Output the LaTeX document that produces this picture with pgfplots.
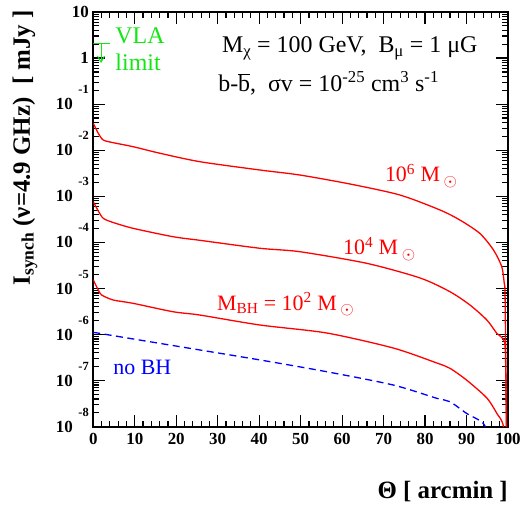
\documentclass[border=0pt]{standalone}
\usepackage{fontspec}
\setmainfont{Liberation Serif}
\usepackage{pgfplots}
\pgfplotsset{compat=1.18}
\usetikzlibrary{arrows.meta}
\definecolor{vlagreen}{RGB}{20,230,20}
\definecolor{pred}{RGB}{255,0,0}
\definecolor{pblue}{RGB}{0,0,255}
\definecolor{tkblack}{RGB}{0,0,0}
\newcommand\ylab[1]{10\hspace{5.5bp}\smash{\raisebox{16bp}{\fontsize{12.5}{12.5}\selectfont\bfseries #1}}}
\newcommand\sun{\,\raisebox{-4.5bp}{\fontsize{17}{17}\selectfont$\odot$}}
\begin{document}
\begin{tikzpicture}
\useasboundingbox (-93.3bp,-78.3bp) rectangle (428.7bp,426.7bp);
\begin{axis}[name=ax, at={(0,0)}, anchor=south west,
  scale only axis, width=414.7bp, height=414.7bp,
  xmin=0, xmax=100, ymode=log, ymin=1e-8, ymax=10,
  axis line style={line width=1.6bp},
  tick style={solid, draw=tkblack, line width=1.2bp},
  tickwidth=12bp, subtickwidth=6bp,
  xtick={0,10,20,30,40,50,60,70,80,90,100}, minor x tick num=4,
  xticklabels={0,10,20,30,40,50,60,70,80,90,100},
  ytick={1e-8,1e-7,1e-6,1e-5,1e-4,1e-3,1e-2,1e-1,1,10},
  yticklabels={\ylab{-8},\ylab{-7},\ylab{-6},\ylab{-5},\ylab{-4},\ylab{-3},\ylab{-2},\ylab{-1},1\hspace{16bp},10\hspace{17bp}},
  minor ytick={2e-8,3e-8,4e-8,5e-8,6e-8,7e-8,8e-8,9e-8,
    2e-7,3e-7,4e-7,5e-7,6e-7,7e-7,8e-7,9e-7,
    2e-6,3e-6,4e-6,5e-6,6e-6,7e-6,8e-6,9e-6,
    2e-5,3e-5,4e-5,5e-5,6e-5,7e-5,8e-5,9e-5,
    2e-4,3e-4,4e-4,5e-4,6e-4,7e-4,8e-4,9e-4,
    2e-3,3e-3,4e-3,5e-3,6e-3,7e-3,8e-3,9e-3,
    2e-2,3e-2,4e-2,5e-2,6e-2,7e-2,8e-2,9e-2,
    0.2,0.3,0.4,0.5,0.6,0.7,0.8,0.9,
    2,3,4,5,6,7,8,9},
  every tick label/.append style={font=\fontsize{17}{17}\selectfont\bfseries},
  xticklabel style={inner sep=0pt, anchor=north, yshift=-6.8bp},
  yticklabel style={inner sep=0pt, anchor=east, xshift=-4.3bp},
]
% tick marks drawn as short segments (major 12 px, minor 6 px)
\addplot[tkblack, solid, line width=1.2bp, mark=none, forget plot, unbounded coords=jump] coordinates {
(0,1e-8)(0,1.822e-8)(nan,nan)(10,1e-8)(10,1.822e-8)(nan,nan)(20,1e-8)(20,1.822e-8)(nan,nan)
(30,1e-8)(30,1.822e-8)(nan,nan)(40,1e-8)(40,1.822e-8)(nan,nan)(50,1e-8)(50,1.822e-8)(nan,nan)
(60,1e-8)(60,1.822e-8)(nan,nan)(70,1e-8)(70,1.822e-8)(nan,nan)(80,1e-8)(80,1.822e-8)(nan,nan)
(90,1e-8)(90,1.822e-8)(nan,nan)(100,1e-8)(100,1.822e-8)(nan,nan)
(0,10)(0,5.488)(nan,nan)(10,10)(10,5.488)(nan,nan)(20,10)(20,5.488)(nan,nan)
(30,10)(30,5.488)(nan,nan)(40,10)(40,5.488)(nan,nan)(50,10)(50,5.488)(nan,nan)
(60,10)(60,5.488)(nan,nan)(70,10)(70,5.488)(nan,nan)(80,10)(80,5.488)(nan,nan)
(90,10)(90,5.488)(nan,nan)(100,10)(100,5.488)(nan,nan)
(0,1e-8)(2.894,1e-8)(nan,nan)(0,1e-7)(2.894,1e-7)(nan,nan)(0,1e-6)(2.894,1e-6)(nan,nan)
(0,1e-5)(2.894,1e-5)(nan,nan)(0,1e-4)(2.894,1e-4)(nan,nan)(0,1e-3)(2.894,1e-3)(nan,nan)
(0,1e-2)(2.894,1e-2)(nan,nan)(0,0.1)(2.894,0.1)(nan,nan)(0,1)(2.894,1)(nan,nan)
(100,1e-7)(97.106,1e-7)(nan,nan)(100,1e-6)(97.106,1e-6)(nan,nan)(100,1e-5)(97.106,1e-5)(nan,nan)
(100,1e-4)(97.106,1e-4)(nan,nan)(100,1e-3)(97.106,1e-3)(nan,nan)(100,1e-2)(97.106,1e-2)(nan,nan)
(100,0.1)(97.106,0.1)(nan,nan)(100,1)(97.106,1)};
% 10^6 Msun
\addplot[pred, line width=1.3bp, smooth, tension=0.45] coordinates {
(0,3.85e-2)(1.2,2.33e-2)(2.4,1.667e-2)(4.8,1.459e-2)(9.6,1.194e-2)(16.1,8.59e-3)
(25.7,5.64e-3)(40.2,3.72e-3)(49.8,2.90e-3)(61.9,1.85e-3)(73.9,1.07e-3)(83.6,5.05e-4)
(88.4,3.06e-4)(93.2,1.57e-4)(96.5,6.84e-5)(98.5,2.97e-5)(99.1,1.29e-5)
(99.27,9.27e-6)(99.4,1e-6)(99.5,1e-7)(99.65,1e-8)(99.85,1e-10)};
% 10^4 Msun
\addplot[pred, line width=1.3bp, smooth, tension=0.45] coordinates {
(0,7.64e-4)(1.2,4.81e-4)(2.4,3.33e-4)(4.8,2.70e-4)(9.6,2.02e-4)(19.2,1.33e-4)
(25.7,1.11e-4)(40.2,7.45e-5)(49.8,6.28e-5)(65.9,3.52e-5)(78.8,1.69e-5)(86.0,8.51e-6)
(90.8,4.39e-6)(94.9,2.07e-6)(97.3,1.06e-6)(98.1,9.3e-7)(98.9,7.8e-7)(99.3,5.46e-7)
(99.5,1e-7)(99.8,1e-10)};
% 10^2 Msun
\addplot[pred, line width=1.3bp, smooth, tension=0.45] coordinates {
(0,1.528e-5)(1.2,9.27e-6)(2.0,7.23e-6)(4.8,5.62e-6)(9.6,4.76e-6)(19.2,3.13e-6)
(25.7,2.65e-6)(40.2,1.61e-6)(56.3,1.08e-6)(72.3,5.11e-7)(82.8,2.42e-7)(86.0,1.85e-7)
(90.0,1.03e-7)(94.9,4.20e-8)(97.3,1.95e-8)(98.9,1e-8)(99.5,1e-9)};
% no BH
\addplot[pblue, line width=1.3bp, dash pattern=on 7bp off 4.5bp, smooth, tension=0.45] coordinates {
(0,1.119e-6)(9.6,8.02e-7)(20,5.62e-7)(40.2,2.81e-7)(56.3,1.56e-7)(72.3,8.04e-8)
(82.8,4.14e-8)(86.0,3.49e-8)(90.0,1.95e-8)(94.0,1.19e-8)(96,5e-9)};
% VLA limit
\addplot[vlagreen, line width=1bp] coordinates {(0,2.1)(4,2.1)};
\addplot[vlagreen, line width=1bp, -{Straight Barb[length=6bp,width=7bp]}] coordinates {(1.86,2.1)(1.86,0.78)};
\node[anchor=base west, text=vlagreen, inner sep=0pt, font=\fontsize{24}{24}\selectfont] at (axis cs:5.3,2.12) {VLA};
\node[anchor=base west, text=vlagreen, inner sep=0pt, font=\fontsize{24}{24}\selectfont] at (axis cs:5.3,0.551) {limit};
\node[anchor=base west, inner sep=0pt, font=\fontsize{24}{24}\selectfont] at (axis cs:31.0,1.29) {M\textsubscript{χ} = 100 GeV,\ \ B\textsubscript{μ} = 1 μG};
\node[anchor=base west, inner sep=0pt, font=\fontsize{24}{24}\selectfont] at (axis cs:30.1,0.186) {b-$\overline{\mbox{b}}$,\ \ σv = 10\textsuperscript{-25} cm\textsuperscript{3} s\textsuperscript{-1}};
\node[anchor=base west, inner sep=0pt, text=pred, font=\fontsize{22}{22}\selectfont] at (axis cs:70.3,2.07e-3) {10\textsuperscript{6} M\sun};
\node[anchor=base west, inner sep=0pt, text=pred, font=\fontsize{22}{22}\selectfont] at (axis cs:60.2,5.33e-5) {10\textsuperscript{4} M\sun};
\node[anchor=base west, inner sep=0pt, text=pred, font=\fontsize{22}{22}\selectfont] at (axis cs:29.8,3.41e-6) {M\textsubscript{BH} = 10\textsuperscript{2} M\sun};
\node[anchor=base west, inner sep=0pt, text=pblue, font=\fontsize{22}{22}\selectfont] at (axis cs:4.8,1.39e-7) {no BH};
\end{axis}
\node[rotate=90, anchor=base east, inner sep=0pt, font=\fontsize{25}{25}\selectfont\bfseries] at (-63.3bp,416.7bp) {I\textsubscript{synch} (ν=4.9 GHz)\ \ [ mJy ]};
\node[anchor=base east, inner sep=0pt, font=\fontsize{25}{25}\selectfont\bfseries] at (414.7bp,-71.3bp) {Θ [ arcmin ]};
\end{tikzpicture}
\end{document}
